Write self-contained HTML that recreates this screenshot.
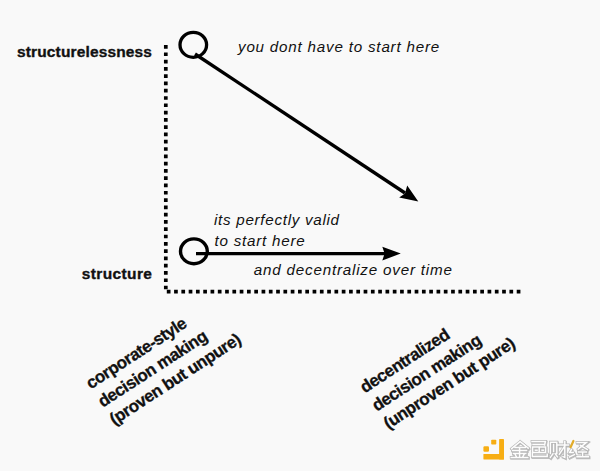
<!DOCTYPE html>
<html><head><meta charset="utf-8">
<style>
html,body{margin:0;padding:0;}
body{width:600px;height:471px;background:#f9f9f9;position:relative;overflow:hidden;font-family:"Liberation Sans",sans-serif;color:#111;}
.t{position:absolute;white-space:nowrap;line-height:1;}
.b{font-weight:bold;font-size:15.5px;-webkit-text-stroke:0.35px #111;}
.i{font-style:italic;font-size:15.2px;}
svg{position:absolute;left:0;top:0;}
.rot{position:absolute;font-weight:bold;font-size:17px;letter-spacing:-0.47px;line-height:21.6px;-webkit-text-stroke:0.3px #111;transform-origin:0 0;white-space:nowrap;}
</style></head><body>
<svg width="600" height="471" viewBox="0 0 600 471">
  <line x1="165.8" y1="45.1" x2="165.8" y2="290" stroke="#000" stroke-width="3.7" stroke-dasharray="3.7 3.59"/>
  <line x1="166.8" y1="291.6" x2="521" y2="291.6" stroke="#000" stroke-width="3.7" stroke-dasharray="3.7 3.59"/>
  <ellipse cx="193.3" cy="44.8" rx="13.3" ry="12.5" fill="none" stroke="#000" stroke-width="3.3"/>
  <line x1="195" y1="54" x2="405" y2="193" stroke="#000" stroke-width="3.3"/>
  <polygon points="418.3,201.6 407.2,185.5 405,193.5 399.2,197.4" fill="#000"/>
  <ellipse cx="193.9" cy="251.3" rx="13.4" ry="12.4" fill="none" stroke="#000" stroke-width="3.4"/>
  <line x1="196" y1="253.7" x2="386" y2="253.7" stroke="#000" stroke-width="3.3"/>
  <polygon points="400.8,253.5 382.3,246.8 384.6,253.6 382.3,260.4" fill="#000"/>
</svg>
<div class="t b" style="left:17px;top:43.5px;letter-spacing:0.139px;">structurelessness</div>
<div class="t b" style="left:81.75px;top:266.45px;letter-spacing:0.374px;">structure</div>
<div class="t i" style="left:238px;top:39.2px;letter-spacing:0.792px;">you dont have to start here</div>
<div class="t i" style="left:214px;top:211.9px;letter-spacing:0.711px;">its perfectly valid</div>
<div class="t i" style="left:214.5px;top:232.8px;letter-spacing:0.766px;">to start here</div>
<div class="t i" style="left:253.75px;top:261.7px;letter-spacing:0.8px;">and decentralize over time</div>
<div class="rot" style="left:82px;top:376px;transform:rotate(-33deg);">corporate-style<br>decision making<br>(proven but unpure)</div>
<div class="rot" style="left:355.9px;top:380.4px;transform:rotate(-33deg);">decentralized<br>decision making<br>(unproven but pure)</div>

<svg width="600" height="471" viewBox="0 0 600 471">
  <g fill="#f7ae14">
    <rect x="491.2" y="439.7" width="5.1" height="4.8" rx="0.8"/>
    <rect x="499.1" y="439" width="4.9" height="20.4" rx="0.4"/>
    <rect x="483.4" y="453.9" width="20.6" height="5.5" rx="0.4"/>
    <rect x="483.4" y="446.3" width="5.6" height="5.5" rx="1.2"/>
  </g>
  
  <path fill="none" stroke-linecap="square" d="M520.1,441.6 L511.6,448.6 M520.1,441.6 L528.2,448.2 M515,447.6 H525.2 M512.6,450.6 H526.6 M519.6,447.8 V457.2 M513.4,453.6 H525.8 M515.2,454.6 L516.2,456.4 M524,454.6 L523,456.4 M511.2,457.4 H527.8 M532,441.4 H545.4 L544.6,445 M533,444.6 H543.8 M532.6,447 H545.6 V452.4 H532.6 Z M539.2,447 V452.4 M532.4,452.4 V456.6 H547.2 V454.2 M550.4,442.2 H556.8 V453.6 M550.4,442.2 V453.6 M553.6,444.6 V451.4 M553,453.8 L550.4,457.4 M555.2,453.6 L557.4,456.8 M558.2,445 H568.4 M564.8,441.6 V457.4 L563,456.6 M564.6,446.4 L559.4,454.2 M571.4,449.6 L569.6,452.6 H573.2 M569.4,457 L574.4,454.6 M577,442.4 H586.4 L578.2,449.2 M580.4,445.4 L587.2,449.4 M578.6,452 H586.4 M582.6,452 V456.6 M577,456.8 H588.4" stroke="#bdbdbd" stroke-width="3" transform="translate(0.6,0.9)"/>
  <path fill="none" stroke-linecap="square" d="M520.1,441.6 L511.6,448.6 M520.1,441.6 L528.2,448.2 M515,447.6 H525.2 M512.6,450.6 H526.6 M519.6,447.8 V457.2 M513.4,453.6 H525.8 M515.2,454.6 L516.2,456.4 M524,454.6 L523,456.4 M511.2,457.4 H527.8 M532,441.4 H545.4 L544.6,445 M533,444.6 H543.8 M532.6,447 H545.6 V452.4 H532.6 Z M539.2,447 V452.4 M532.4,452.4 V456.6 H547.2 V454.2 M550.4,442.2 H556.8 V453.6 M550.4,442.2 V453.6 M553.6,444.6 V451.4 M553,453.8 L550.4,457.4 M555.2,453.6 L557.4,456.8 M558.2,445 H568.4 M564.8,441.6 V457.4 L563,456.6 M564.6,446.4 L559.4,454.2 M571.4,449.6 L569.6,452.6 H573.2 M569.4,457 L574.4,454.6 M577,442.4 H586.4 L578.2,449.2 M580.4,445.4 L587.2,449.4 M578.6,452 H586.4 M582.6,452 V456.6 M577,456.8 H588.4" stroke="#b4b4b4" stroke-width="2.8"/>
  <path fill="none" stroke-linecap="square" d="M520.1,441.6 L511.6,448.6 M520.1,441.6 L528.2,448.2 M515,447.6 H525.2 M512.6,450.6 H526.6 M519.6,447.8 V457.2 M513.4,453.6 H525.8 M515.2,454.6 L516.2,456.4 M524,454.6 L523,456.4 M511.2,457.4 H527.8 M532,441.4 H545.4 L544.6,445 M533,444.6 H543.8 M532.6,447 H545.6 V452.4 H532.6 Z M539.2,447 V452.4 M532.4,452.4 V456.6 H547.2 V454.2 M550.4,442.2 H556.8 V453.6 M550.4,442.2 V453.6 M553.6,444.6 V451.4 M553,453.8 L550.4,457.4 M555.2,453.6 L557.4,456.8 M558.2,445 H568.4 M564.8,441.6 V457.4 L563,456.6 M564.6,446.4 L559.4,454.2 M571.4,449.6 L569.6,452.6 H573.2 M569.4,457 L574.4,454.6 M577,442.4 H586.4 L578.2,449.2 M580.4,445.4 L587.2,449.4 M578.6,452 H586.4 M582.6,452 V456.6 M577,456.8 H588.4" stroke="#fdfdfd" stroke-width="1.5"/>
  <line x1="573.4" y1="441" x2="570.6" y2="447.2" stroke="#e2ac2a" stroke-width="2.2" stroke-linecap="round"/>
</svg>
</body></html>
